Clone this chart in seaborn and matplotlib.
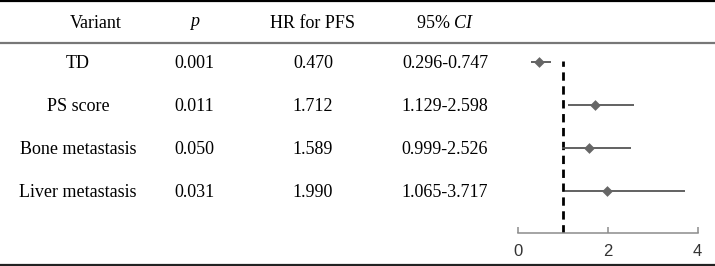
import matplotlib
matplotlib.use("Agg")
import matplotlib.pyplot as plt
import seaborn as sns
import numpy as np
import pandas as pd

variants = ["TD", "PS score", "Bone metastasis", "Liver metastasis"]
p_values = ["0.001", "0.011", "0.050", "0.031"]
hr = [0.470, 1.712, 1.589, 1.990]
ci_low = [0.296, 1.129, 0.999, 1.065]
ci_high = [0.747, 2.598, 2.526, 3.717]
headers = ["Variant", "$p$", "HR for PFS", "95% $CI$"]
x_ticks = [0, 2, 4]

sns.set_theme(style="white")
plt.rcParams["font.family"] = ["Liberation Serif", "DejaVu Serif"]
plt.rcParams["mathtext.fontset"] = "custom"
plt.rcParams["mathtext.rm"] = "Liberation Serif"
plt.rcParams["mathtext.it"] = "Liberation Serif:italic"
plt.rcParams["text.color"] = "black"

W, H = 715, 266
fig = plt.figure(figsize=(W / 100, H / 100), dpi=100)
fig.patch.set_facecolor("white")

# table layer in pixel coordinates
axt = fig.add_axes([0, 0, 1, 1])
axt.set_xlim(0, W)
axt.set_ylim(H, 0)
axt.axis("off")

axt.plot([0, W], [1.2, 1.2], color="black", lw=1.6, solid_capstyle="butt")
axt.plot([0, W], [42.8, 42.8], color="#777777", lw=1.6, solid_capstyle="butt")
axt.plot([0, W], [265, 265], color="#222222", lw=1.6, solid_capstyle="butt")

fs = 13
header_x = [96, 194.5, 313, 445]
for hx, h in zip(header_x, headers):
    axt.text(hx, 23, h, ha="center", va="center", fontsize=fs, color="black")

row_y0, row_dy = 62.5, 42.7
col_x = [78, 194.5, 313, 445]
df = pd.DataFrame({"variant": variants, "p": p_values, "hr": hr,
                   "lo": ci_low, "hi": ci_high})
df["row"] = np.arange(len(df))
for i, r in df.iterrows():
    y = row_y0 + row_dy * i + 1.5
    kw = dict(ha="center", va="center", fontsize=fs, color="black")
    axt.text(col_x[0], y, r["variant"], **kw)
    axt.text(col_x[1], y, r["p"], **kw)
    axt.text(col_x[2], y, f"{r['hr']:.3f}", **kw)
    axt.text(col_x[3], y, f"{r['lo']:.3f}-{r['hi']:.3f}", **kw)

# forest plot
left_px, right_px = 517.5, 697.5
top_px, bot_px = 42.0, 233.0
ax = fig.add_axes([left_px / W, (H - bot_px) / H,
                   (right_px - left_px) / W, (bot_px - top_px) / H])
ax.set_facecolor("none")
ax.set_xlim(0, 4)
ax.set_ylim((bot_px - row_y0) / row_dy, (top_px - row_y0) / row_dy)

ax.axvline(1, ymin=0, ymax=(bot_px - 61) / (bot_px - top_px), color="black",
           lw=2, linestyle=(0, (3, 2)))
ax.hlines(df["row"], df["lo"], df["hi"], color="#555555", lw=1.3)
sns.scatterplot(data=df, x="hr", y="row", marker="D", color="#666666",
                s=30, edgecolor="#666666", linewidth=0, ax=ax, zorder=3)

for s in ["left", "top", "right"]:
    ax.spines[s].set_visible(False)
ax.spines["bottom"].set_color("#8c8c8c")
ax.spines["bottom"].set_linewidth(1.1)
ax.set_xticks(x_ticks)
ax.set_xticklabels([str(t) for t in x_ticks], family=["Liberation Sans", "DejaVu Sans"],
                   fontsize=12, color="#333333")
ax.set_yticks([])
ax.tick_params(axis="x", direction="in", length=4, width=1.1, color="#8c8c8c", pad=8,
               bottom=True)
ax.set_xlabel("")
ax.set_ylabel("")

fig.savefig("out.png", dpi=100, facecolor="white")
